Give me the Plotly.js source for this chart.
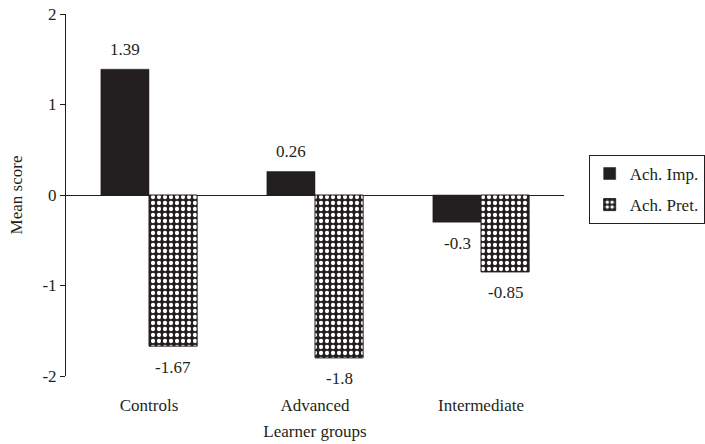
<!DOCTYPE html>
<html>
<head>
<meta charset="utf-8">
<script src="https://cdn.plot.ly/plotly-3.0.1.min.js"></script>
<style>html,body{margin:0;padding:0;background:#fff;}#chart{width:705px;height:444px;}</style>
</head>
<body>
<div id="chart"></div>
<script>
var categories = ['Controls', 'Advanced', 'Intermediate'];
var seriesNames = ['Ach. Imp.', 'Ach. Pret.'];
var achImp = [1.39, 0.26, -0.3];
var achPret = [-1.67, -1.8, -0.85];
var yTicks = [-2, -1, 0, 1, 2];

var ink = '#231f20';
var font = {family: 'Liberation Serif, Times New Roman, serif', size: 17, color: ink};

var traces = [
  {
    type: 'bar', name: seriesNames[0], x: categories, y: achImp, legendgroup: 'a',
    marker: {color: ink, line: {color: ink, width: 0.5}},
    hoverinfo: 'none'
  },
  {
    type: 'bar', name: seriesNames[1], x: categories, y: achPret, legendgroup: 'b',
    marker: {color: ink, line: {color: ink, width: 1},
      pattern: {shape: '.', fgcolor: '#ffffff', bgcolor: ink, size: 6, solidity: 0.4}},
    hoverinfo: 'none'
  }
];

var annotations = [];
function addLabels(vals, shiftX) {
  vals.forEach(function (v, i) {
    annotations.push({
      x: categories[i], y: v, xref: 'x', yref: 'y',
      text: String(v), showarrow: false, font: font,
      xshift: shiftX, yshift: v >= 0 ? 20 : -21,
      xanchor: 'center', yanchor: 'middle'
    });
  });
}
addLabels(achImp, -24);
addLabels(achPret, 24);

var layout = {
  width: 705, height: 444,
  margin: {l: 66, r: 141, t: 14, b: 68},
  paper_bgcolor: '#fff', plot_bgcolor: '#fff',
  font: font,
  barmode: 'group', bargap: 0.42, bargroupgap: 0,
  showlegend: true,
  legend: {
    xref: 'container', yref: 'container',
    x: 0.835, y: 0.651, xanchor: 'left', yanchor: 'top',
    bordercolor: ink, borderwidth: 1, font: font,
    itemwidth: 30, traceorder: 'grouped', tracegroupgap: 6
  },
  xaxis: {
    type: 'category', showline: false, showgrid: false, zeroline: false,
    ticks: '', ticklabelstandoff: 17, tickfont: font,
    automargin: false,
    title: {text: 'Learner groups', font: font, standoff: 11}
  },
  yaxis: {
    range: [-2, 2], tickvals: yTicks, ticktext: yTicks.map(String),
    showline: true, linecolor: ink, linewidth: 1,
    ticks: 'outside', ticklen: 5, tickcolor: ink, tickwidth: 1,
    showgrid: false, zeroline: true, zerolinecolor: ink, zerolinewidth: 1,
    tickfont: font, automargin: false,
    title: {text: 'Mean score', font: font, standoff: 15}
  },
  annotations: annotations
};

Plotly.newPlot('chart', traces, layout, {displayModeBar: false, staticPlot: true});
</script>
</body>
</html>
